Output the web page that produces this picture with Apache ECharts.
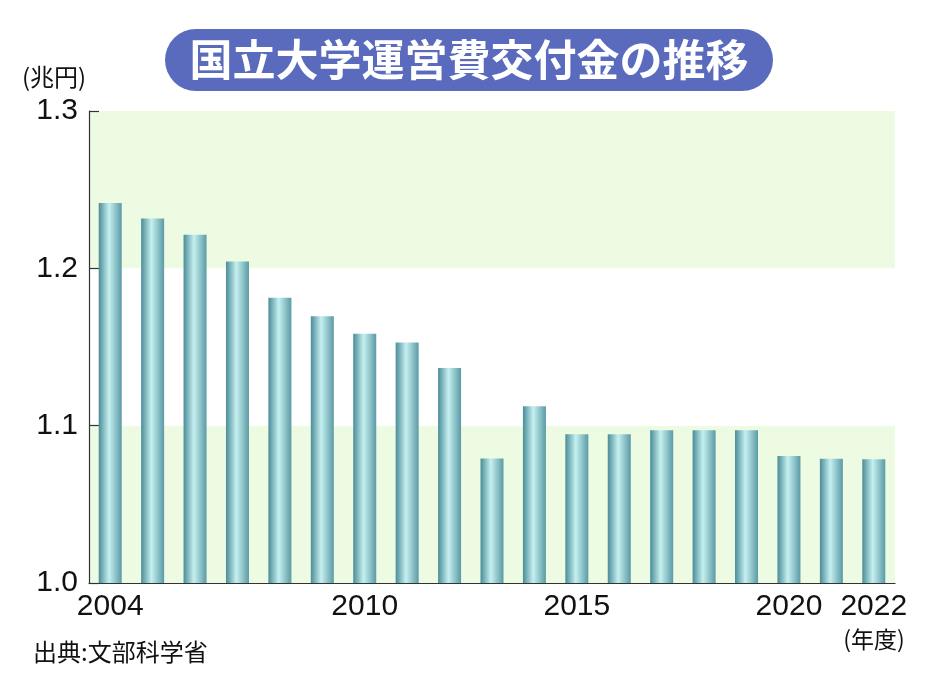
<!DOCTYPE html>
<html><head><meta charset="utf-8">
<script src="https://cdn.jsdelivr.net/npm/echarts@6/dist/echarts.min.js"></script>
<style>html,body{margin:0;padding:0;background:#fff}#c{width:934px;height:693px}</style>
</head><body><div id="c"></div>
<script>
const years = ['2004','2005','2006','2007','2008','2009','2010','2011','2012','2013','2014','2015','2016','2017','2018','2019','2020','2021','2022'];
const grants = [1.2415,1.2317,1.2214,1.2043,1.1813,1.1695,1.1585,1.1528,1.1366,1.0792,1.1123,1.0945,1.0945,1.0971,1.0971,1.0971,1.0807,1.0790,1.0786];
const xTickLabels = ['2004','2010','2015','2020','2022'];
const yTicks = [1.0, 1.1, 1.2, 1.3];
const titleText = '国立大学運営費交付金の推移';
const unitText = '(兆円)';
const yearUnitText = '(年度)';
const sourceText = '出典:文部科学省';

const chart = echarts.init(document.getElementById('c'));
const numFont = "'Liberation Sans', Arial, sans-serif";
chart.setOption({
  animation: false,
  backgroundColor: '#ffffff',
  grid: { left: 89, right: 39, top: 111, bottom: 110 },
  xAxis: {
    type: 'category',
    data: years,
    boundaryGap: true,
    axisLine: { show: true, lineStyle: { color: '#333', width: 1.2 } },
    axisTick: { show: false },
    axisLabel: {
      interval: (i, v) => xTickLabels.includes(v),
      formatter: v => xTickLabels.includes(v) ? v : '',
      color: '#111', fontSize: 30, fontFamily: numFont, margin: 9
    }
  },
  yAxis: {
    type: 'value',
    min: yTicks[0], max: yTicks[yTicks.length - 1], interval: 0.1,
    axisLine: { show: true, lineStyle: { color: '#333', width: 1.2 } },
    axisTick: { show: true, inside: true, length: 10, lineStyle: { color: '#333', width: 1.2 } },
    axisLabel: { formatter: v => v.toFixed(1), color: '#111', fontSize: 30, fontFamily: numFont, margin: 11 },
    splitLine: { show: false },
    splitArea: { show: true, areaStyle: { color: ['#eefbe3', '#ffffff'] } }
  },
  series: [{
    type: 'bar',
    data: grants,
    barWidth: 23,
    itemStyle: {
      color: new echarts.graphic.LinearGradient(0, 0, 1, 0, [
        { offset: 0, color: '#4a8c98' },
        { offset: 0.45, color: '#c6f0f0' },
        { offset: 1, color: '#5a9aa5' }
      ])
    }
  }],
  graphic: [
    { type: 'rect', left: 165, top: 29, shape: { width: 608, height: 62, r: 31 }, style: { fill: '#5a6bbd' } },
    { type: 'text', x: 469, y: 60, style: { text: titleText, fill: '#fff', font: "bold 43px 'Noto Sans CJK JP', sans-serif", textAlign: 'center', textVerticalAlign: 'middle' } },
    { type: 'text', x: 22, y: 77, style: { text: unitText, fill: '#111', font: "24px 'Noto Sans CJK JP', sans-serif", textAlign: 'left', textVerticalAlign: 'middle' } },
    { type: 'text', x: 874, y: 639, style: { text: yearUnitText, fill: '#111', font: "23px 'Noto Sans CJK JP', sans-serif", textAlign: 'center', textVerticalAlign: 'middle' } },
    { type: 'text', x: 33, y: 652, style: { text: sourceText, fill: '#111', font: "24px 'Noto Sans CJK JP', sans-serif", textAlign: 'left', textVerticalAlign: 'middle' } }
  ]
});
</script></body></html>
